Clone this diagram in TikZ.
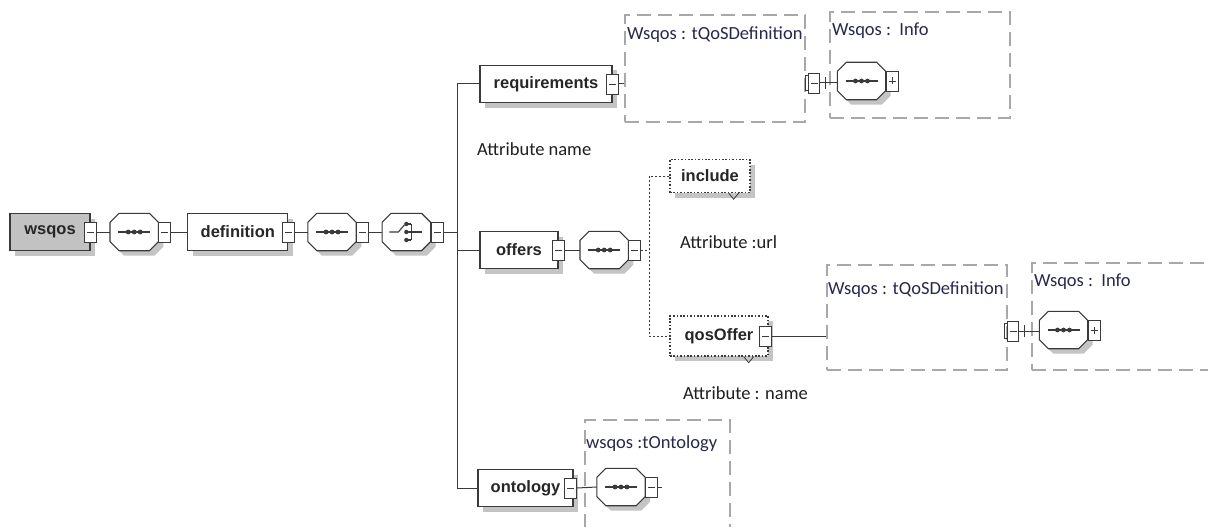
\documentclass[tikz,border=0pt]{standalone}
\usepackage{fontspec}
\setmainfont{Liberation Sans}
\newfontfamily\labelfont{Carlito}
\usepackage{tikz}
\usepackage{xcolor}
\usetikzlibrary{shadows,positioning,calc}
\definecolor{XsdBorder}{HTML}{3A3A3A}
\definecolor{XsdRoot}{HTML}{C2C2C2}
\definecolor{XsdShadow}{HTML}{C4C4C4}
\definecolor{XsdDash}{HTML}{A8A8A8}
\definecolor{XsdText}{HTML}{28284C}
\tikzset{
    % Element box
    elemnode/.style={
        draw=XsdBorder,
        fill=white,
        line width=1.1pt,
        minimum height=37pt,
        inner xsep=6pt,
        text=black!85,
        font=\fontsize{16.5}{19}\selectfont\bfseries,
        drop shadow={shadow xshift=5pt, shadow yshift=-5pt, fill=XsdShadow, opacity=1}
    },
    % Root element
    rootnode/.style={
        elemnode,
        fill=XsdRoot
    },
    % Optional element
    optnode/.style={
        elemnode,
        line width=1.3pt,
        dash pattern=on 1.6pt off 1.8pt
    },
    % Compositor place holder, the octagon is drawn by \seqoct / \choiceoct
    compnode/.style={
        minimum width=48pt,
        minimum height=37pt,
        inner sep=0pt
    },
    % Expand / collapse buttons
    btnbox/.style={
        draw=XsdBorder,
        fill=white,
        line width=0.9pt,
        minimum width=12pt,
        minimum height=20pt,
        inner sep=0pt
    },
    minusbox/.style={
        btnbox,
        path picture={
            \draw[line width=0.8pt] ([xshift=-3.5pt]path picture bounding box.center) -- ([xshift=3.5pt]path picture bounding box.center);
        }
    },
    plusbox/.style={
        btnbox,
        path picture={
            \draw[line width=0.8pt] ([xshift=-3.5pt]path picture bounding box.center) -- ([xshift=3.5pt]path picture bounding box.center);
            \draw[line width=0.8pt] ([yshift=-3.5pt]path picture bounding box.center) -- ([yshift=3.5pt]path picture bounding box.center);
        }
    },
    % Complex type frame
    typebox/.style={
        draw=XsdDash,
        line width=1.6pt,
        dash pattern=on 14pt off 7pt,
        inner sep=0pt
    },
    % Type and attribute texts
    typelabel/.style={
        anchor=west,
        inner sep=0pt,
        text=XsdText,
        font=\labelfont\fontsize{18.5}{21}\selectfont
    },
    attrlabel/.style={
        typelabel,
        text=black!88
    },
    % Connectors
    myline/.style={
        draw=XsdBorder,
        line width=1pt
    },
    dotline/.style={
        myline,
        dash pattern=on 2pt off 2pt
    }
}

% octagon round a compositor node: #1 node, #2/#3 offset
\newcommand{\octpath}[3]{([xshift=#2+9pt, yshift=#3]#1.north west) -- ([xshift=#2-9pt, yshift=#3]#1.north east)
    -- ([xshift=#2, yshift=#3-9pt]#1.north east) -- ([xshift=#2, yshift=#3+9pt]#1.south east)
    -- ([xshift=#2-9pt, yshift=#3]#1.south east) -- ([xshift=#2+9pt, yshift=#3]#1.south west)
    -- ([xshift=#2, yshift=#3+9pt]#1.south west) -- ([xshift=#2, yshift=#3-9pt]#1.north west) -- cycle}
\newcommand{\octagon}[1]{%
    \fill[XsdShadow] \octpath{#1}{5pt}{-5pt};
    \draw[myline, line width=1.1pt, fill=white] \octpath{#1}{0pt}{0pt};}
% sequence: line with three dots
\newcommand{\seqoct}[1]{%
    \octagon{#1}
    \draw[myline, line width=1.1pt] ([xshift=-16pt]#1.center) -- ([xshift=16pt]#1.center);
    \foreach \d in {-6,0,6}
        \fill[XsdBorder] ([xshift=\d pt]#1.center) circle (2.4pt);}
% choice: switch and three dots
\newcommand{\choiceoct}[1]{%
    \octagon{#1}
    \draw[myline, line width=1.1pt] ([xshift=-17pt]#1.center) -- ([xshift=-8pt]#1.center) -- ([xshift=-2pt, yshift=7pt]#1.center);
    \draw[myline, line width=1.1pt] ([xshift=5pt, yshift=8pt]#1.center) -- ([xshift=5pt, yshift=-8pt]#1.center);
    \draw[myline, line width=1.1pt] ([xshift=5pt]#1.center) -- ([xshift=16pt]#1.center);
    \foreach \d in {-8,0,8} {
        \draw[myline, line width=1.1pt] ([yshift=\d pt]#1.center) -- ([xshift=5pt, yshift=\d pt]#1.center);
        \fill[XsdBorder] ([yshift=\d pt]#1.center) circle (2.2pt);
    }}

\begin{document}
\begin{tikzpicture}[x=1pt, y=-1pt]
    \clip (0,0) rectangle (1208,527);
    \fill[white] (0,0) rectangle (1208,527);

    % Complex type frames
    \node[typebox, minimum width=180pt, minimum height=107pt] (reqtype) at (715,68.5) {};
    \node[typebox, minimum width=180pt, minimum height=106pt] (infoatype) at (920,65) {};
    \node[typebox, minimum width=180pt, minimum height=105pt] (offtype) at (917,317.5) {};
    \node[typebox, minimum width=190pt, minimum height=107pt] (infobtype) at (1127,316.5) {};
    \node[typebox, minimum width=145pt, minimum height=120pt] (onttype) at (657.5,480) {};

    \node[typelabel] (reqtypelbl) at (627,35) {Wsqos : tQoSDefinition};
    \node[typelabel] (infoalbl) at (832,31) {Wsqos :\ \ Info};
    \node[typelabel] (offtypelbl) at (828,290) {Wsqos : tQoSDefinition};
    \node[typelabel] (infoblbl) at (1034,282) {Wsqos :\ \ Info};
    \node[typelabel] (onttypelbl) at (586,444) {wsqos :tOntology};

    % Root row
    \node[rootnode, minimum width=80pt] (wsqos) at (50,232) {wsqos};
    \node[minusbox] (wsqosbtn) at (wsqos.east) {};
    \node[compnode, right=13pt of wsqosbtn] (seqa) {};
    \seqoct{seqa}
    \node[minusbox, anchor=west] (seqabtn) at (seqa.east) {};
    \node[elemnode, minimum width=100pt, right=16pt of seqabtn] (definition) {definition};
    \node[minusbox] (defbtn) at (definition.east) {};
    \node[compnode, right=13pt of defbtn] (seqb) {};
    \seqoct{seqb}
    \node[minusbox, anchor=west] (seqbbtn) at (seqb.east) {};
    \node[compnode, right=13pt of seqbbtn] (choice) {};
    \choiceoct{choice}
    \node[minusbox, anchor=west] (choicebtn) at (choice.east) {};
    \coordinate (bus) at (457,232);

    % Child elements
    \node[elemnode, minimum width=132pt] (requirements) at (546,84) {requirements};
    \node[minusbox] (reqbtn) at (requirements.east) {};
    \node[attrlabel] (reqattr) at (477,149) {Attribute name};

    \node[elemnode, minimum width=78pt] (offers) at (519,250) {offers};
    \node[minusbox] (offbtn) at (offers.east) {};
    \node[compnode, right=15pt of offbtn] (seqc) {};
    \seqoct{seqc}
    \node[minusbox, anchor=west] (seqcbtn) at (seqc.east) {};
    \coordinate (optbus) at (649,250);

    \node[optnode, minimum width=80pt, minimum height=33pt] (include) at (710,176) {include};
    \node[attrlabel] (includeattr) at (680,242) {Attribute :url};
    \node[optnode, minimum width=98pt, minimum height=40pt] (qosoffer) at (719,336) {qosOffer};
    \node[minusbox] (qosbtn) at ([xshift=-3pt]qosoffer.east) {};
    \node[attrlabel] (qosattr) at (683,393) {Attribute : name};

    \node[elemnode, minimum width=95pt] (ontology) at (525.5,488) {ontology};
    \node[minusbox] (ontbtn) at ([xshift=-3pt]ontology.east) {};
    \node[compnode] (seqd) at (621,487) {};
    \seqoct{seqd}
    \node[minusbox, anchor=west] (seqdbtn) at (seqd.east) {};

    % Extension buttons and Info sequences
    \node[minusbox, minimum width=11pt] (exta) at (814,83) {};
    \node[compnode] (seqinfoa) at (861.5,81) {};
    \seqoct{seqinfoa}
    \node[plusbox, anchor=west] (seqinfoabtn) at (seqinfoa.east) {};
    \node[minusbox, minimum width=11pt] (extb) at (1013,331) {};
    \node[compnode] (seqinfob) at (1063.5,330) {};
    \seqoct{seqinfob}
    \node[plusbox, anchor=west] (seqinfobbtn) at (seqinfob.east) {};

    % Notches under optional elements
    \draw[myline, line width=0.8pt] ([xshift=-22pt]include.south east) -- ++(5,6) -- ++(5,-6);
    \draw[myline, line width=0.8pt] ([xshift=-25pt]qosoffer.south east) -- ++(5,6) -- ++(5,-6);
    \foreach \ic in {exta,extb}
        \draw[myline, line width=0.8pt] ([yshift=-3pt]\ic.north west) -- ++(-3,0) |- ([yshift=3pt]\ic.south west);

    % Connectors
    \draw[myline] (wsqosbtn.east) -- (seqa.west);
    \draw[myline] (seqabtn.east) -- (definition.west);
    \draw[myline] (defbtn.east) -- (seqb.west);
    \draw[myline] (seqbbtn.east) -- (choice.west);
    \draw[myline] (choicebtn.east) -- (bus);
    \draw[myline] (requirements.west) -- (requirements.west -| bus) -- (ontology.west -| bus) -- (ontology.west);
    \draw[myline] (offers.west) -- (offers.west -| bus);
    \draw[myline] (reqbtn.east) -- (reqbtn.east -| reqtype.west);
    \draw[myline] (offbtn.east) -- (seqc.west);
    \draw[dotline] (seqcbtn.east) -- (optbus);
    \draw[dotline] (include.west) -| (optbus) |- (qosoffer.west);
    \draw[myline] (qosbtn.east) -- (qosbtn.east -| offtype.west);
    \draw[myline] (ontbtn.east) -- (seqd.west);
    \draw[myline] (seqdbtn.east) -- ++(4,0);
    \draw[myline] (exta.east) -- (seqinfoa.west |- exta.east);
    \draw[myline] ([xshift=6pt, yshift=6pt]exta.east) -- ++(0,12);
    \draw[myline] (extb.east) -- (seqinfob.west |- extb.east);
    \draw[myline] ([xshift=6pt, yshift=6pt]extb.east) -- ++(0,12);
\end{tikzpicture}
\end{document}
